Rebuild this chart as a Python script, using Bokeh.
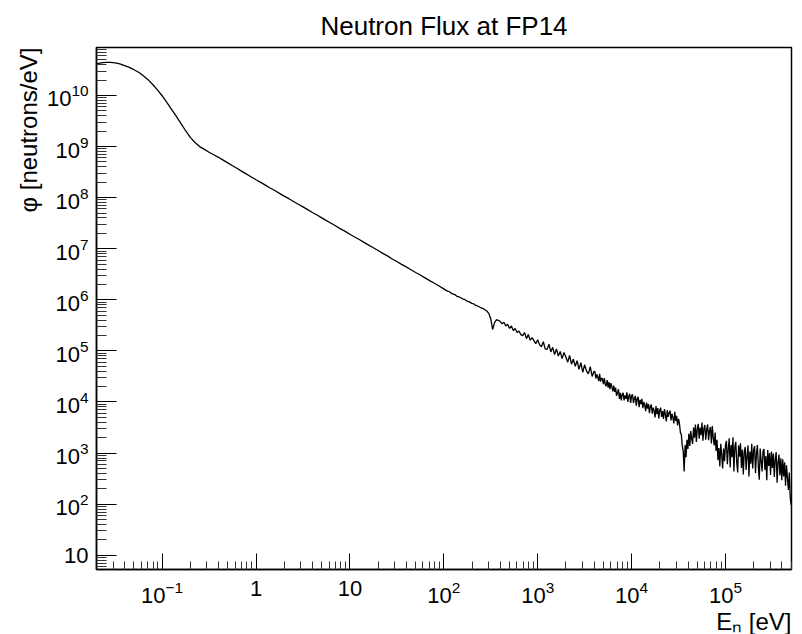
import numpy as np
from bokeh.plotting import figure
from bokeh.models import FixedTicker, Range1d, Title
from bokeh.embed import file_html
from bokeh.resources import INLINE

# ---------------- data ----------------
# Histogram bin centres, log10(E / eV), three binning stretches
log_e_smooth = np.linspace(-1.70, 2.00, 75)    # step 0.05
log_e_mid = np.linspace(2.02, 3.60, 80)        # step 0.02
log_e_fast = np.linspace(3.61, 5.70, 210)      # step 0.01

# log10(flux / (neutrons/eV))
log_flux_smooth = [
    10.62, 10.64, 10.648, 10.65, 10.64, 10.62, 10.585, 10.55, 10.505, 10.455,
    10.385, 10.31, 10.215, 10.11, 9.995, 9.865, 9.73, 9.595, 9.455, 9.31,
    9.18, 9.08, 9.00, 8.945, 8.89, 8.84, 8.79, 8.735, 8.68, 8.625,
    8.57, 8.515, 8.46, 8.405, 8.35,
    8.30, 8.245, 8.19, 8.14, 8.085, 8.03, 7.98, 7.925, 7.87, 7.82,
    7.765, 7.71, 7.66, 7.605, 7.55, 7.50, 7.445, 7.39, 7.34, 7.285,
    7.23, 7.18, 7.125, 7.07, 7.02, 6.965, 6.91, 6.86, 6.80, 6.75,
    6.695, 6.645, 6.59, 6.535, 6.485, 6.43, 6.375, 6.325, 6.27, 6.215,
]
log_flux_mid = [
    6.19, 6.17, 6.16, 6.13, 6.11, 6.10, 6.07, 6.06, 6.04, 6.02,
    6.01, 5.98, 5.97, 5.95, 5.93, 5.92, 5.89, 5.88, 5.86, 5.84,
    5.83, 5.80, 5.78, 5.73, 5.63, 5.42, 5.55, 5.61, 5.60,
    5.58, 5.53, 5.56, 5.49, 5.52, 5.44, 5.49, 5.40, 5.44, 5.36,
    5.39, 5.32, 5.30, 5.36, 5.24, 5.32, 5.21, 5.26, 5.20, 5.14,
    5.22, 5.12, 5.08, 5.18, 5.04, 5.03, 5.13, 4.98, 5.07, 4.93,
    5.04, 4.90, 4.99, 4.85, 4.97, 4.88, 4.78, 4.91, 4.74, 4.84,
    4.70, 4.81, 4.64, 4.77, 4.58, 4.73, 4.61, 4.55, 4.69, 4.50, 4.60,
]
log_flux_fast = [
    4.59, 4.46, 4.54, 4.49, 4.41, 4.55, 4.40, 4.47, 4.45, 4.35,
    4.47, 4.34, 4.31, 4.43, 4.28, 4.39, 4.25, 4.37, 4.30, 4.21,
    4.32, 4.20, 4.28, 4.12, 4.18, 4.25, 4.06, 4.18, 4.03, 4.15,
    4.18, 4.03, 4.13, 4.06, 4.19, 4.00, 4.11, 4.16, 3.98, 4.12,
    4.15, 3.98, 4.07, 4.12, 3.93, 4.06, 4.10, 3.90, 4.04, 3.96,
    4.06, 3.88, 4.00, 3.94, 3.82, 3.99, 3.87, 3.96, 3.78, 3.91,
    3.95, 3.77, 3.89, 3.83, 3.70, 3.92, 3.76, 3.88, 3.68, 3.84,
    3.89, 3.71, 3.82, 3.67, 3.86, 3.75, 3.62, 3.84, 3.71, 3.79,
    3.83, 3.64, 3.77, 3.70, 3.58, 3.81, 3.63, 3.73, 3.54, 3.67,
    3.58, 3.40, 3.36, 3.14, 3.04, 2.64, 3.16, 2.92, 3.26, 3.08,
    3.38, 3.14, 3.43, 3.28, 3.18, 3.50, 3.30, 3.56, 3.22, 3.47,
    3.57, 3.28, 3.50, 3.35, 3.60, 3.24, 3.48, 3.55, 3.26, 3.46,
    3.56, 3.25, 3.44, 3.51, 3.19, 3.53, 3.30, 3.15, 3.40, 3.04,
    3.26, 2.86, 3.10, 2.74, 3.18, 2.96, 2.70, 3.09, 2.84, 3.15,
    3.24, 2.78, 3.08, 3.29, 2.72, 3.16, 2.92, 3.31, 2.64, 3.12,
    3.22, 2.82, 2.62, 3.15, 2.93, 3.19, 2.71, 3.07, 2.58, 3.02,
    3.12, 2.67, 2.95, 3.15, 2.54, 3.03, 2.79, 3.18, 2.70, 3.06,
    3.14, 2.61, 2.99, 3.16, 2.74, 2.48, 3.09, 2.84, 2.64, 3.04,
    3.08, 2.67, 2.94, 2.47, 3.06, 2.75, 3.00, 2.57, 3.03, 2.71,
    2.99, 2.53, 2.88, 3.02, 2.42, 2.82, 2.97, 2.56, 2.90, 2.47,
    2.88, 2.54, 2.82, 2.36, 2.76, 2.52, 2.28, 2.62, 2.12, 1.98,
]

x_major_ticks = [0.1, 1, 10, 100, 1e3, 1e4, 1e5]
y_major_ticks = [10, 1e2, 1e3, 1e4, 1e5, 1e6, 1e7, 1e8, 1e9, 1e10]
x_label_overrides = {1: "1", 10: "10"}
y_label_overrides = {10: "10"}

title_text = "Neutron Flux at FP14"
y_title = "\u03c6 [neutrons/eV]"
x_title = "E\u2099 [eV]"

# ---------------- build ----------------
energy = 10 ** np.concatenate([log_e_smooth, log_e_mid, log_e_fast])
flux = 10 ** np.concatenate([log_flux_smooth, log_flux_mid, log_flux_fast])

x_minor = [m * 10.0 ** k for k in range(-2, 6) for m in range(2, 10)]
y_minor = [m * 10.0 ** k for k in range(0, 11) for m in range(2, 10)]

FONT = "Liberation Sans"

p = figure(width=800, height=634, x_axis_type="log", y_axis_type="log",
           x_range=Range1d(0.02, 5.05e5), y_range=Range1d(5.26, 8.7e10),
           output_backend="svg", toolbar_location=None,
           min_border_left=96, min_border_right=9,
           min_border_top=47, min_border_bottom=62,
           title=title_text)

p.title.align = "center"
p.title.text_font = FONT
p.title.text_font_size = "26px"
p.title.text_font_style = "normal"
p.title.text_color = "black"
p.title.standoff = 14

p.line(energy, flux, line_color="black", line_width=1.3)

p.grid.visible = False
p.background_fill_color = "white"
p.border_fill_color = "white"
p.outline_line_color = "black"
p.outline_line_width = 1.5

p.xaxis.ticker = FixedTicker(ticks=x_major_ticks, minor_ticks=x_minor)
p.yaxis.ticker = FixedTicker(ticks=y_major_ticks, minor_ticks=y_minor)
p.xaxis.major_label_overrides = x_label_overrides
p.yaxis.major_label_overrides = y_label_overrides

for ax in (p.xaxis, p.yaxis):
    ax.axis_line_color = "black"
    ax.axis_line_width = 1.5
    ax.major_tick_line_color = "black"
    ax.minor_tick_line_color = "#333333"
    ax.major_tick_out = 0
    ax.minor_tick_out = 0
    ax.major_label_text_font = FONT
    ax.major_label_text_font_size = "22px"
    ax.major_label_text_color = "black"

p.xaxis.major_tick_in = 16
p.xaxis.minor_tick_in = 8
p.yaxis.major_tick_in = 20
p.yaxis.minor_tick_in = 10
p.xaxis.major_label_standoff = 11
p.yaxis.major_label_standoff = 8

# axis titles (ROOT style: at the end of each axis)
p.add_layout(Title(text=y_title, align="right", text_font=FONT,
                   text_font_size="24px", text_font_style="normal",
                   text_color="black", standoff=4), "left")
p.add_layout(Title(text=x_title, align="right", text_font=FONT,
                   text_font_size="24px", text_font_style="normal",
                   text_color="black", standoff=0), "below")

open("out.html", "w").write(file_html(p, INLINE))
